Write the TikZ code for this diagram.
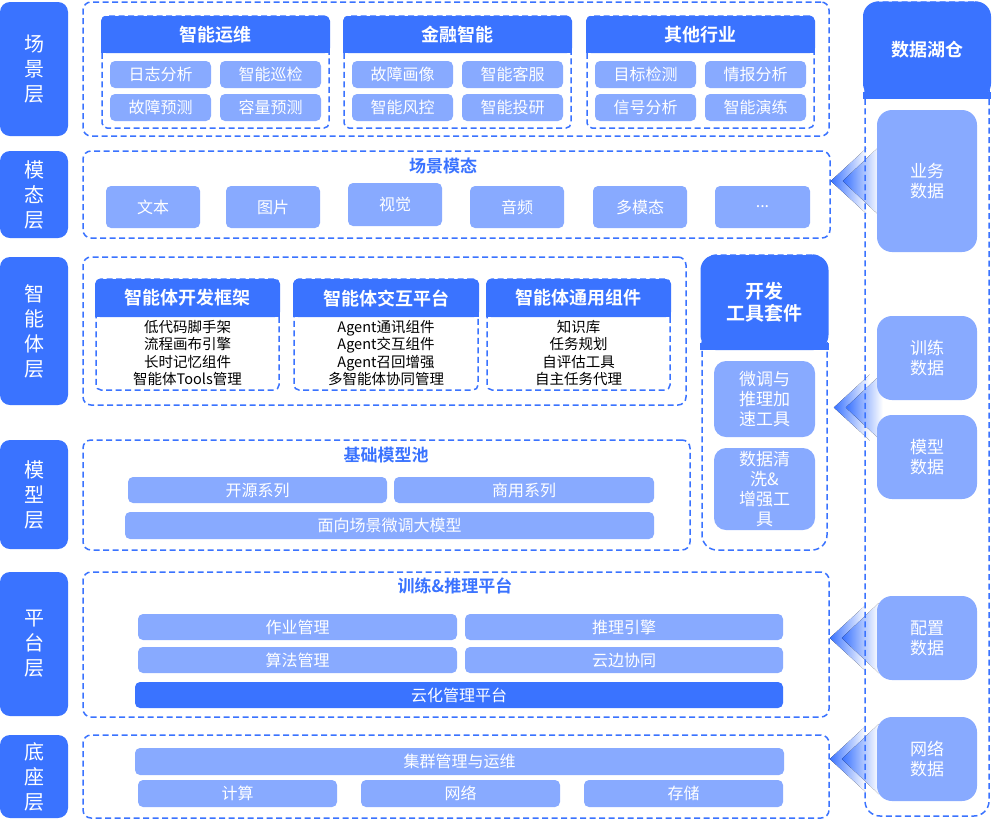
\documentclass[tikz,border=0pt]{standalone}
\usepackage{fontspec}
\setmainfont{Noto Sans CJK SC}[BoldFont={Noto Sans CJK SC Bold}]
\usetikzlibrary{calc}
\definecolor{mainblue}{HTML}{3A73FF}
\definecolor{softblue}{HTML}{88AAFF}
\pgfdeclarelayer{background}
\pgfsetlayers{background,main}
\tikzset{
  wh/.style 2 args={minimum width=#1pt, minimum height=#2pt},
  tab/.style={fill=mainblue, rounded corners=10pt, text=white, inner sep=0pt, align=center,
    font=\fontsize{20}{25}\selectfont},
  panel/.style={draw=mainblue, line width=1.5pt, dash pattern=on 6pt off 3.5pt,
    rounded corners=8pt, inner sep=0pt},
  group/.style={panel, rounded corners=5pt},
  head/.style={fill=mainblue, rounded corners=5pt, text=white, inner sep=0pt, align=center,
    font=\bfseries\fontsize{18}{22}\selectfont},
  cell/.style={fill=softblue, rounded corners=5pt, text=white, inner sep=0pt, align=center,
    font=\fontsize{16}{20}\selectfont},
  darkcell/.style={cell, fill=mainblue},
  datacell/.style={cell, rounded corners=15pt, font=\fontsize{17}{20}\selectfont},
  title/.style={text=mainblue, inner sep=0pt, font=\bfseries\fontsize{17}{20}\selectfont},
  list/.style={align=center, inner sep=0pt, font=\fontsize{14.5}{17.5}\selectfont},
  fade/.style={left color=mainblue, middle color=mainblue!80, right color=white},
}
\newcommand{\dataflow}[1]{%
  \fill[fade] (#1) -- ++(36,-33) -- ++(0,66) -- cycle;
  \fill[fade] ($(#1)+(12,0)$) -- ++(37,-35) -- ++(0,70) -- cycle;
}
\newcommand{\patchhead}[1]{%
  \fill[mainblue] (#1.south west) rectangle ([yshift=7pt]#1.south east);
}
\begin{document}
\begin{tikzpicture}[x=1pt, y=-1pt]
  \useasboundingbox (0,0) rectangle (992,820);

  \node[tab, wh={68}{134}] (sceneTab)    at (34,69)    {场\\景\\层};
  \node[tab, wh={68}{87}]  (modalTab)    at (34,194.5) {模\\态\\层};
  \node[tab, wh={68}{148}] (agentTab)    at (34,331)   {智\\能\\体\\层};
  \node[tab, wh={68}{109}] (modelTab)    at (34,494.5) {模\\型\\层};
  \node[tab, wh={68}{144}] (platformTab) at (34,644)   {平\\台\\层};
  \node[tab, wh={68}{83}]  (baseTab)     at (34,776.5) {底\\座\\层};

  \node[panel, wh={746}{134}] (scene)    at (456,69)    {};
  \node[panel, wh={747}{87}]  (modal)    at (456.5,194.5) {};
  \node[panel, wh={603}{148}] (agent)    at (384.5,331) {};
  \node[panel, wh={607}{110}] (model)    at (386.5,495) {};
  \node[panel, wh={746}{145}] (platform) at (456,644.5) {};
  \node[panel, wh={746}{83}]  (base)     at (456,776.5) {};

  \node[group, wh={227}{112}] (opsBox)   at (215.5,72) {};
  \node[group, wh={227}{112}] (finBox)   at (457.5,72) {};
  \node[group, wh={227}{112}] (otherBox) at (700.5,72) {};
  \node[head, wh={229}{37}] (opsHead)   at (215.5,34.5) {智能运维};
  \node[head, wh={229}{37}] (finHead)   at (457.5,34.5) {金融智能};
  \node[head, wh={229}{37}] (otherHead) at (700.5,34.5) {其他行业};
  \patchhead{opsHead}
  \patchhead{finHead}
  \patchhead{otherHead}
  \matrix[row sep=6pt, column sep=9pt, nodes={cell, wh={101}{27}}] (opsGrid) at (215.5,91)
  {
    \node {日志分析}; & \node {智能巡检}; \\
    \node {故障预测}; & \node {容量预测}; \\
  };
  \matrix[row sep=6pt, column sep=9pt, nodes={cell, wh={101}{27}}] (finGrid) at (457.5,91)
  {
    \node {故障画像}; & \node {智能客服}; \\
    \node {智能风控}; & \node {智能投研}; \\
  };
  \matrix[row sep=6pt, column sep=9pt, nodes={cell, wh={101}{27}}] (otherGrid) at (700.5,91)
  {
    \node {目标检测}; & \node {情报分析}; \\
    \node {信号分析}; & \node {智能演练}; \\
  };

  \node[title] (modalTitle) at (443,166) {场景模态};
  \node[cell, wh={94}{42}] (text)  at (153,207)   {文本};
  \node[cell, wh={94}{42}] (image) at (273,207)   {图片};
  \node[cell, wh={94}{43}] (video) at (395,204.5) {视觉};
  \node[cell, wh={94}{42}] (audio) at (517,207)   {音频};
  \node[cell, wh={94}{42}] (multi) at (640,207)   {多模态};
  \node[cell, wh={95}{42}] (more)  at (762.5,207) {...};

  \node[group, wh={183}{111}] (devBox)  at (187.5,334.5) {};
  \node[group, wh={184}{111}] (chatBox) at (386,334.5)   {};
  \node[group, wh={183}{111}] (compBox) at (578.5,334.5) {};
  \node[head, wh={185}{38}] (devHead)  at (187.5,298) {智能体开发框架};
  \node[head, wh={186}{38}] (chatHead) at (386,298)   {智能体交互平台};
  \node[head, wh={185}{38}] (compHead) at (578.5,298) {智能体通用组件};
  \patchhead{devHead}
  \patchhead{chatHead}
  \patchhead{compHead}
  \node[list] (devList)  at (187.5,353) {低代码脚手架\\流程画布引擎\\长时记忆组件\\智能体Tools管理};
  \node[list] (chatList) at (386,353)   {Agent通讯组件\\Agent交互组件\\Agent召回增强\\多智能体协同管理};
  \node[list] (compList) at (578.5,353) {知识库\\任务规划\\自评估工具\\自主任务代理};

  \node[group, rounded corners=15pt, wh={125}{295}] (devkit) at (764.5,402.5) {};
  \node[head, rounded corners=15pt, wh={128}{95}, font=\bfseries\fontsize{19}{22}\selectfont]
    (devkitHead) at (764.5,302.5) {开发\\工具套件};
  \patchhead{devkitHead}
  \node[cell, rounded corners=12pt, wh={101}{76}, font=\fontsize{17}{20}\selectfont]
    (tuneTool) at (764.5,399) {微调与\\推理加\\速工具};
  \node[cell, rounded corners=12pt, wh={101}{82}, font=\fontsize{17}{20}\selectfont]
    (cleanTool) at (764.5,489) {数据清\\洗\&\\增强工\\具};

  \node[title] (modelTitle) at (386,455) {基础模型池};
  \node[cell, wh={259}{26}] (openSrc)  at (257.5,490) {开源系列};
  \node[cell, wh={260}{26}] (commerce) at (524,490)   {商用系列};
  \node[cell, wh={529}{27}] (finetune) at (389.5,525.5) {面向场景微调大模型};

  \node[title] (platformTitle) at (455,586) {训练\&推理平台};
  \node[cell, wh={319}{26}] (jobMgr)   at (297.5,627) {作业管理};
  \node[cell, wh={318}{26}] (infer)    at (624,627)   {推理引擎};
  \node[cell, wh={319}{26}] (algoMgr)  at (297.5,660) {算法管理};
  \node[cell, wh={318}{26}] (edge)     at (624,660)   {云边协同};
  \node[darkcell, wh={648}{26}] (cloud) at (459,695)  {云化管理平台};

  \node[cell, wh={649}{27}] (cluster) at (459.5,761.5) {集群管理与运维};
  \node[cell, wh={199}{27}] (compute) at (237.5,793.5) {计算};
  \node[cell, wh={199}{27}] (network) at (460.5,793.5) {网络};
  \node[cell, wh={199}{27}] (storage) at (683.5,793.5) {存储};

  \node[group, rounded corners=15pt, wh={124}{814}] (lake) at (927,409) {};
  \node[head, rounded corners=15pt, wh={128}{97}] (lakeHead) at (927,50) {数据湖仓};
  \patchhead{lakeHead}
  \node[datacell, wh={100}{142}] (biz)       at (927,181) {业务\\数据};
  \node[datacell, wh={100}{84}]  (train)     at (927,358) {训练\\数据};
  \node[datacell, wh={100}{84}]  (modelData) at (927,457) {模型\\数据};
  \node[datacell, wh={100}{84}]  (config)    at (927,638) {配置\\数据};
  \node[datacell, wh={100}{84}]  (net)       at (927,759) {网络\\数据};

  \coordinate (bizTip) at (modal.east |- biz.west);
  \coordinate (devTip) at ($(train.south west)!0.5!(modelData.north west) + (-43,0)$);
  \coordinate (cfgTip) at (platform.east |- config.west);
  \coordinate (netTip) at (base.east |- net.west);
  \begin{pgfonlayer}{background}
    \fill[white] (0,0) rectangle (992,820);
    \dataflow{bizTip}
    \dataflow{devTip}
    \dataflow{cfgTip}
    \dataflow{netTip}
  \end{pgfonlayer}
\end{tikzpicture}
\end{document}
